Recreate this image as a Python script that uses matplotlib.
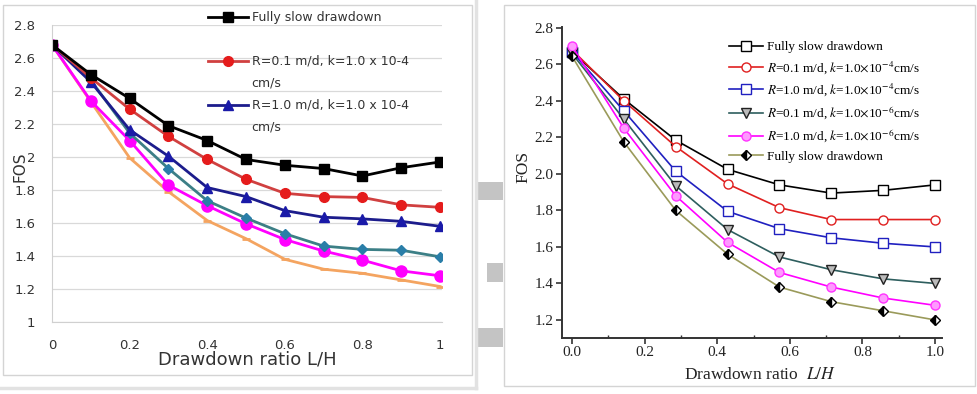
import numpy as np
import matplotlib
matplotlib.use("Agg")
import matplotlib.pyplot as plt
from matplotlib.lines import Line2D
from matplotlib.patches import Rectangle
from matplotlib.ticker import FuncFormatter, MultipleLocator

plt.rcParams['mathtext.fontset'] = 'stix'

W, H = 978, 394

# left chart (Excel style), x step 0.1
x_left = [0, 0.1, 0.2, 0.3, 0.4, 0.5, 0.6, 0.7, 0.8, 0.9, 1.0]
left_slow = [2.68, 2.50, 2.355, 2.19, 2.10, 1.985, 1.95, 1.93, 1.885, 1.935, 1.97]
left_r01 = [2.68, 2.48, 2.29, 2.125, 1.985, 1.865, 1.78, 1.76, 1.755, 1.71, 1.695]
left_r10 = [2.68, 2.455, 2.165, 2.005, 1.815, 1.76, 1.675, 1.635, 1.625, 1.61, 1.58]
left_teal = [2.68, 2.465, 2.145, 1.93, 1.735, 1.63, 1.535, 1.46, 1.44, 1.435, 1.395]
left_mag = [2.68, 2.34, 2.10, 1.83, 1.705, 1.595, 1.50, 1.43, 1.375, 1.31, 1.28]
left_orange = [2.68, 2.335, 1.995, 1.79, 1.615, 1.505, 1.38, 1.32, 1.295, 1.255, 1.215]
left_yticks = [1, 1.2, 1.4, 1.6, 1.8, 2, 2.2, 2.4, 2.6, 2.8]
left_xticks = [0, 0.2, 0.4, 0.6, 0.8, 1]

# right chart (Origin style), 8 points
x_right = [0, 1/7, 2/7, 3/7, 4/7, 5/7, 6/7, 1.0]
right_slow = [2.67, 2.41, 2.185, 2.025, 1.94, 1.895, 1.91, 1.94]
right_r01_4 = [2.68, 2.40, 2.15, 1.945, 1.815, 1.75, 1.75, 1.75]
right_r10_4 = [2.67, 2.345, 2.015, 1.795, 1.70, 1.65, 1.62, 1.60]
right_r01_6 = [2.66, 2.30, 1.935, 1.695, 1.545, 1.475, 1.425, 1.40]
right_r10_6 = [2.70, 2.25, 1.88, 1.625, 1.46, 1.38, 1.32, 1.28]
right_slow2 = [2.645, 2.175, 1.80, 1.56, 1.38, 1.30, 1.25, 1.20]

fig = plt.figure(figsize=(W / 100, H / 100), dpi=100)


def fx(px):
    return px / W


def fy(py):
    return 1 - py / H


# panel frames and watermark
fig.add_artist(Rectangle((fx(3), fy(375)), fx(469), 370 / H, transform=fig.transFigure,
                         fill=False, ec='#d4d4d4', lw=1))
fig.add_artist(Line2D([fx(476), fx(476)], [fy(0), fy(388)], transform=fig.transFigure,
                      color='#e2e2e2', lw=2.5))
fig.add_artist(Line2D([fx(0), fx(476)], [fy(388), fy(388)], transform=fig.transFigure,
                      color='#e2e2e2', lw=2.5))
fig.add_artist(Rectangle((fx(504), fy(386)), fx(471), 381 / H, transform=fig.transFigure,
                         fill=False, ec='#d4d4d4', lw=1))
for (x0, y0, x1, y1) in [(478, 182, 503, 200), (487, 263, 503, 282), (478, 328, 503, 347)]:
    fig.add_artist(Rectangle((fx(x0), fy(y1)), fx(x1 - x0), (y1 - y0) / H,
                             transform=fig.transFigure, color='#c4c4c4', lw=0))

# ---------------- left chart ----------------
ax1 = fig.add_axes([fx(52), fy(322), fx(390), 297 / H])
ax1.plot(x_left, left_orange, color='#f4a460', lw=2, marker='_', ms=6, mew=2)
ax1.plot(x_left, left_mag, color='#ff00ff', lw=2, marker='o', ms=8)
ax1.plot(x_left, left_teal, color='#3c7f86', lw=2, marker='D', ms=5, mfc='#2a7ea8', mec='#2a7ea8')
ax1.plot(x_left, left_r10, color='#1c1c8c', lw=2, marker='^', ms=7, mfc='#1a1aa8', mec='#1a1aa8')
ax1.plot(x_left, left_r01, color='#d04040', lw=2, marker='o', ms=7, mfc='#e51c1c', mec='#e51c1c')
ax1.plot(x_left, left_slow, color='black', lw=2, marker='s', ms=7)

ax1.set_xlim(0, 1.005)
ax1.set_ylim(1, 2.8)
ax1.set_yticks(left_yticks)
ax1.set_xticks(left_xticks)
fmt = FuncFormatter(lambda v, p: '%g' % round(v, 2))
ax1.yaxis.set_major_formatter(fmt)
ax1.xaxis.set_major_formatter(fmt)
ax1.grid(axis='y', color='#d9d9d9', lw=0.9)
ax1.set_axisbelow(True)
for s in ['top', 'right']:
    ax1.spines[s].set_visible(False)
for s in ['left', 'bottom']:
    ax1.spines[s].set_color('#d0d0d0')
ax1.tick_params(length=0, labelsize=9.5, labelcolor='#333333')
ax1.tick_params(axis='y', pad=12)
ax1.tick_params(axis='x', pad=12)

fig.text(fx(20), fy(167), 'FOS', rotation=90, ha='center', va='center', fontsize=11, color='#333333')
fig.text(fx(247), fy(360), 'Drawdown ratio L/H', ha='center', va='center', fontsize=13, color='#333333')

blank = Line2D([], [], linestyle='none')
leg1_handles = [Line2D([], [], color='black', lw=2, marker='s', ms=7),
                blank,
                Line2D([], [], color='#d04040', lw=2, marker='o', ms=7, mfc='#e51c1c', mec='#e51c1c'),
                blank,
                Line2D([], [], color='#1c1c8c', lw=2, marker='^', ms=7, mfc='#1a1aa8', mec='#1a1aa8'),
                blank]
leg1_labels = ['Fully slow drawdown', ' ', 'R=0.1 m/d, k=1.0 x 10-4', 'cm/s',
               'R=1.0 m/d, k=1.0 x 10-4', 'cm/s']
fig.legend(leg1_handles, leg1_labels, loc='upper left', bbox_to_anchor=(fx(208), fy(11)),
           frameon=False, borderpad=0, borderaxespad=0, fontsize=9, handlelength=3.2,
           handletextpad=0.3, labelspacing=0.72, labelcolor='#333333')

# ---------------- right chart ----------------
serif = 'Liberation Serif'
ax2 = fig.add_axes([fx(562), fy(338), fx(380), 311 / H])
ax2.plot(x_right, right_slow, color='black', lw=1.2, marker='s', ms=6.5, mfc='white', mec='black')
ax2.plot(x_right, right_r01_4, color='#e02020', lw=1.2, marker='o', ms=6.5, mfc='white', mec='#e02020')
ax2.plot(x_right, right_r10_4, color='#2020c0', lw=1.2, marker='s', ms=6.5, mfc='white', mec='#2020c0')
ax2.plot(x_right, right_r01_6, color='#2e5e5e', lw=1.2, marker='v', ms=7.5, mfc='#bbbbbb', mec='#222222')
ax2.plot(x_right, right_r10_6, color='#ff00ff', lw=1.2, marker='o', ms=6.5, mfc='#ff99ff', mec='#ff33ff')
ax2.plot(x_right, right_slow2, color='#9a9a5a', lw=1.2, marker='D', ms=5.5, mfc='black', mec='black',
         fillstyle='left', markerfacecoloralt='white')

ax2.set_xlim(-0.0275, 1.019)
ax2.set_ylim(1.101, 2.805)
ax2.xaxis.set_major_locator(MultipleLocator(0.2))
ax2.xaxis.set_minor_locator(MultipleLocator(0.1))
ax2.yaxis.set_major_locator(MultipleLocator(0.2))
ax2.xaxis.set_major_formatter(FuncFormatter(lambda v, p: '%.1f' % v))
ax2.yaxis.set_major_formatter(FuncFormatter(lambda v, p: '%.1f' % v))
for s in ['top', 'right']:
    ax2.spines[s].set_visible(False)
for s in ['left', 'bottom']:
    ax2.spines[s].set_linewidth(1.4)
    ax2.spines[s].set_color('#333333')
ax2.tick_params(which='major', length=4, width=1.2, labelsize=11, pad=2, color='#333333')
ax2.tick_params(which='minor', length=2.5, width=1.0, direction='in', color='#333333')
for lab in ax2.get_xticklabels() + ax2.get_yticklabels():
    lab.set_family(serif)
    lab.set_color('#222222')

fig.text(fx(523), fy(167), 'FOS', rotation=90, ha='center', va='center', fontsize=12.5,
         family=serif, color='#222222')
fig.text(fx(760), fy(375), r'Drawdown ratio  $L/H$', ha='center', va='center', fontsize=12.5,
         family=serif, color='#222222')

leg2_labels = ['Fully slow drawdown',
               r'$R$=0.1 m/d, $k$=1.0$\times$10$^{-4}$cm/s',
               r'$R$=1.0 m/d, $k$=1.0$\times$10$^{-4}$cm/s',
               r'$R$=0.1 m/d, $k$=1.0$\times$10$^{-6}$cm/s',
               r'$R$=1.0 m/d, $k$=1.0$\times$10$^{-6}$cm/s',
               'Fully slow drawdown']
fig.legend(ax2.get_lines(), leg2_labels, loc='upper left', bbox_to_anchor=(fx(729), fy(41)),
           frameon=False, borderpad=0, borderaxespad=0, handlelength=2.6,
           handletextpad=0.25, labelspacing=0.45, prop={'family': serif, 'size': 9.5})

fig.savefig('out.png', dpi=100, facecolor='white')
